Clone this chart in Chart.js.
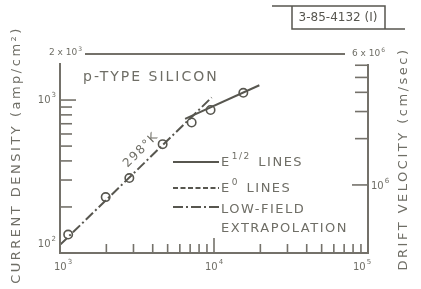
<!DOCTYPE html>
<html><head><meta charset="utf-8">
<script src="https://cdn.jsdelivr.net/npm/chart.js@4/dist/chart.umd.min.js"></script>
<style>html,body{margin:0;padding:0;background:#fff;}#wrap{width:421px;height:289px;}</style>
</head><body><div id="wrap"><canvas id="c" width="421" height="289"></canvas></div>
<script>
// ---- data ----
const fieldValues   = [1130, 1980, 2820, 4640, 7160, 9500, 15500];
const currentValues = [132, 232, 309, 515, 713, 861, 1115];
const lowFieldX  = [1000, 9660];
const lowFieldY  = [113, 1040];
const halfPowerX = [6490, 19700];
const halfPowerY = [753, 1250];

const xMajorTicks  = [1000, 10000, 100000];
const xMajorLabels = [['10','3'], ['10','4'], ['10','5']];
const xMinorTicks  = [2000,3000,4000,5000,6000,7000,8000,9000,20000,30000,40000,50000,60000,70000,80000,90000];
const yMajorTicks  = [100, 1000];
const yMajorLabels = [['10','2'], ['10','3']];
const yMinorTicks  = [200,300,400,500,600,700,800,900];
const yTopLabel    = ['2 x 10','3'];
const y2MajorTicks = [1000000];
const y2MajorLabels= [['10','6']];
const y2MinorTicks = [2000000,3000000,4000000,5000000,6000000];
const y2TopLabel   = ['6 x 10','6'];
const legendItems  = [['E','1/2',' LINES'], ['E','0',' LINES'], ['LOW-FIELD','',''], ['EXTRAPOLATION','','']];
const tempLabel = '298°K';
const materialLabel = 'p-TYPE SILICON';
const figId = '3-85-4132 (I)';
const yTitle = 'CURRENT DENSITY (amp/cm²)';
const y2Title = 'DRIFT VELOCITY (cm/sec)';

const LINE = '#57564f';
const AXIS = '#74716a';
const TEXT = '#6f6e66';
const FONT = '"DejaVu Sans", sans-serif';

function supText(ctx, base, sup, x, y, size, align, spacing) {
  ctx.font = size + 'px ' + FONT;
  ctx.letterSpacing = (spacing||0) + 'px';
  const wb = ctx.measureText(base).width;
  ctx.font = Math.round(size*0.7) + 'px ' + FONT;
  const ws = ctx.measureText(sup).width;
  const total = wb + ws + 1;
  let x0 = x;
  if (align === 'right') x0 = x - total;
  else if (align === 'center') x0 = x - total/2;
  ctx.textAlign = 'left';
  ctx.textBaseline = 'middle';
  ctx.font = size + 'px ' + FONT;
  ctx.fillText(base, x0, y);
  ctx.font = Math.round(size*0.7) + 'px ' + FONT;
  ctx.fillText(sup, x0 + wb + 1, y - size*0.45);
  return x0 + total;
}

const decor = {
  id: 'decor',
  afterDraw(chart) {
    const ctx = chart.ctx;
    const xs = chart.scales.x, ys = chart.scales.y, y2 = chart.scales.y2;
    ctx.save();
    ctx.strokeStyle = AXIS; ctx.fillStyle = TEXT; ctx.lineWidth = 2; ctx.lineCap = 'butt';
    const L = xs.getPixelForValue(1000), R = xs.getPixelForValue(100000);
    const B = ys.getPixelForValue(100), T = ys.getPixelForValue(2000);
    // axes
    ctx.beginPath();
    ctx.moveTo(L, T + 9); ctx.lineTo(L, B); ctx.lineTo(R, B); ctx.lineTo(R, T + 10);
    ctx.stroke();
    // top line
    ctx.beginPath(); ctx.moveTo(L + 25, T); ctx.lineTo(R - 23, T); ctx.stroke();
    // ticks
    ctx.lineWidth = 1.6;
    xMajorTicks.forEach(v => { const p = xs.getPixelForValue(v); ctx.beginPath(); ctx.moveTo(p, B); ctx.lineTo(p, B - 15); ctx.stroke(); });
    xMinorTicks.forEach(v => { const p = xs.getPixelForValue(v); ctx.beginPath(); ctx.moveTo(p, B); ctx.lineTo(p, B - 9); ctx.stroke(); });
    yMajorTicks.forEach(v => { const p = ys.getPixelForValue(v); ctx.beginPath(); ctx.moveTo(L, p); ctx.lineTo(L + 16, p); ctx.stroke(); });
    yMinorTicks.forEach(v => { const p = ys.getPixelForValue(v); ctx.beginPath(); ctx.moveTo(L, p); ctx.lineTo(L + 12, p); ctx.stroke(); });
    y2MajorTicks.forEach(v => { const p = y2.getPixelForValue(v); ctx.beginPath(); ctx.moveTo(R, p); ctx.lineTo(R - 16, p); ctx.stroke(); });
    y2MinorTicks.forEach(v => { const p = y2.getPixelForValue(v); ctx.beginPath(); ctx.moveTo(R, p); ctx.lineTo(R - 13, p); ctx.stroke(); });
    // tick labels
    xMajorTicks.forEach((v, i) => supText(ctx, xMajorLabels[i][0], xMajorLabels[i][1], xs.getPixelForValue(v) + (i===0?3:(i===2?-6:0)), B + 14, 10, 'center'));
    yMajorTicks.forEach((v, i) => supText(ctx, yMajorLabels[i][0], yMajorLabels[i][1], L - 4, ys.getPixelForValue(v) - (i===0?9:0), 10, 'right'));
    supText(ctx, yTopLabel[0], yTopLabel[1], L + 22, T - 1, 9, 'right');
    y2MajorTicks.forEach((v, i) => supText(ctx, y2MajorLabels[i][0], y2MajorLabels[i][1], R + 3, y2.getPixelForValue(v) + 1, 10, 'left'));
    supText(ctx, y2TopLabel[0], y2TopLabel[1], R - 16, T, 9, 'left');
    // legend
    const lx0 = 173, lx1 = 219;
    const lys = [162, 188, 207];
    const dashes = [[], [5, 2.5], [10, 3, 2, 3]];
    ctx.strokeStyle = LINE; ctx.lineWidth = 2;
    lys.forEach((y, i) => { ctx.setLineDash(dashes[i]); ctx.beginPath(); ctx.moveTo(lx0, y); ctx.lineTo(lx1, y); ctx.stroke(); });
    ctx.setLineDash([]);
    ctx.fillStyle = TEXT;
    const legY = [163, 189, 210, 229];
    legendItems.forEach((it, i) => {
      let x = 221;
      if (it[1]) {
        x = supText(ctx, it[0], it[1], x, legY[i], 13, 'left', 1.5);
        ctx.font = '13px ' + FONT; ctx.letterSpacing = '1.5px';
        ctx.textAlign = 'left'; ctx.textBaseline = 'middle';
        ctx.fillText(it[2], x + 2, legY[i]);
      } else {
        ctx.font = '13px ' + FONT; ctx.letterSpacing = '1.5px';
        ctx.textAlign = 'left'; ctx.textBaseline = 'middle';
        ctx.fillText(it[0], x, legY[i]);
      }
    });
    // annotations
    ctx.font = '14px ' + FONT; ctx.letterSpacing = '2px';
    ctx.textAlign = 'left'; ctx.textBaseline = 'middle';
    ctx.fillText(materialLabel, 83, 77);
    ctx.save();
    ctx.translate(141, 150); ctx.rotate(-Math.PI/4);
    ctx.font = '12px ' + FONT; ctx.letterSpacing = '1.5px'; ctx.textAlign = 'center';
    ctx.fillText(tempLabel, 0, 0);
    ctx.restore();
    // axis titles
    ctx.save();
    ctx.translate(17, 155); ctx.rotate(-Math.PI/2);
    ctx.font = '13px ' + FONT; ctx.letterSpacing = '2.5px'; ctx.textAlign = 'center';
    ctx.fillText(yTitle, 0, 0);
    ctx.restore();
    ctx.save();
    ctx.translate(404, 159); ctx.rotate(-Math.PI/2);
    ctx.font = '13px ' + FONT; ctx.letterSpacing = '2.5px'; ctx.textAlign = 'center';
    ctx.fillText(y2Title, 0, 0);
    ctx.restore();
    // figure id box
    ctx.strokeStyle = LINE; ctx.lineWidth = 1.5; ctx.letterSpacing = '0px';
    ctx.beginPath(); ctx.moveTo(272, 6); ctx.lineTo(385, 6); ctx.lineTo(385, 29); ctx.stroke();
    ctx.beginPath(); ctx.moveTo(292, 6); ctx.lineTo(292, 29); ctx.lineTo(405, 29); ctx.stroke();
    ctx.fillStyle = LINE;
    ctx.font = '12px ' + FONT; ctx.textAlign = 'center'; ctx.textBaseline = 'middle';
    ctx.fillText(figId, 338, 18);
    ctx.restore();
  }
};

new Chart(document.getElementById('c'), {
  type: 'scatter',
  data: {
    datasets: [
      { label: 'low-field', data: lowFieldX.map((x, i) => ({x, y: lowFieldY[i]})), showLine: true,
        borderColor: LINE, borderWidth: 2, borderDash: [10, 3, 2, 3], pointRadius: 0 },
      { label: 'E^1/2', data: halfPowerX.map((x, i) => ({x, y: halfPowerY[i]})), showLine: true,
        borderColor: LINE, borderWidth: 2, pointRadius: 0 },
      { label: 'measured', data: fieldValues.map((x, i) => ({x, y: currentValues[i]})), showLine: false,
        pointRadius: 4.2, pointBackgroundColor: '#fff', pointBorderColor: LINE, pointBorderWidth: 1.6 }
    ]
  },
  options: {
    responsive: false, animation: false, devicePixelRatio: 1,
    layout: { padding: { left: 60, right: 53, top: 54, bottom: 36 } },
    plugins: { legend: { display: false }, tooltip: { enabled: false } },
    scales: {
      x:  { type: 'logarithmic', min: 1000, max: 100000, display: false },
      y:  { type: 'logarithmic', min: 100, max: 2000, display: false },
      y2: { type: 'logarithmic', min: 361000, max: 7100000, display: false, position: 'right' }
    }
  },
  plugins: [decor]
});
</script></body></html>
